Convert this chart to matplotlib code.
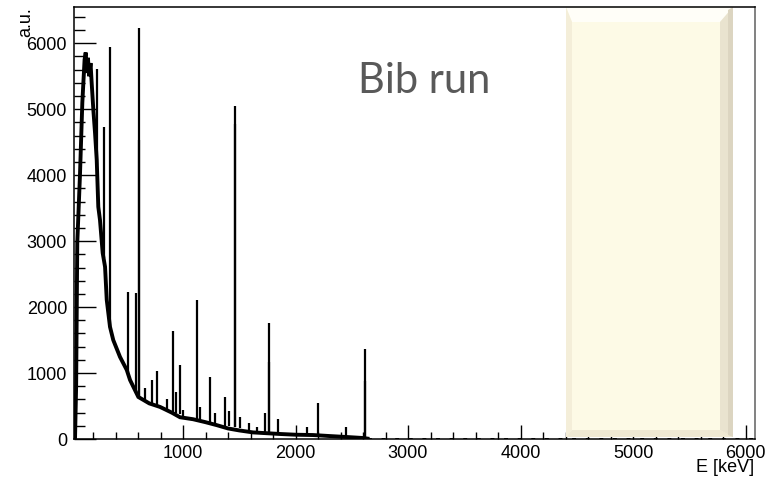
import numpy as np
import matplotlib.pyplot as plt
from matplotlib.patches import Polygon
from matplotlib.ticker import MultipleLocator

# continuum of the spectrum (keV, counts)
cont_e = [40, 50, 60, 84, 105, 125, 135, 145, 155, 165, 178, 188, 203, 218,
          233, 247, 262, 286, 307, 322, 351, 380, 440, 500, 529, 603, 700,
          796, 900, 973, 1089, 1200, 1300, 1400, 1500, 1622, 1711, 1862,
          2000, 2156, 2300, 2458, 2600, 2640]
cont_c = [0, 800, 2970, 4000, 5100, 5750, 5860, 5550, 5780, 5500, 5700, 5400,
          4990, 4640, 4230, 3520, 3320, 2820, 2610, 2110, 1700, 1500, 1244,
          1047, 895, 637, 540, 486, 400, 330, 300, 255, 210, 160, 130, 100,
          91, 76, 65, 60, 45, 30, 15, 6]

# flat tail near zero
tail_e = [2640, 6080]
tail_c = [4, 4]

# gamma lines: energy, top, continuum under it
peak_e = [238, 295, 352, 511, 583, 609, 613, 665, 727, 768, 860, 911, 934,
          969, 1001, 1120, 1155, 1238, 1281, 1377, 1408, 1461, 1465, 1509,
          1588, 1661, 1730, 1764, 1768, 1847, 2103, 2204, 2448, 2614, 2618]
peak_top = [5615, 4725, 5950, 2236, 2220, 6230, 4540, 780, 895, 1032, 607,
            1644, 718, 1123, 440, 2100, 490, 946, 394, 637, 430, 5050, 4780,
            339, 248, 177, 390, 1765, 1173, 299, 177, 540, 177, 1361, 885]
peak_base = [4150, 2750, 1700, 1000, 700, 640, 630, 560, 520, 500, 440, 410,
             400, 380, 330, 300, 285, 250, 235, 200, 190, 175, 175, 160, 130,
             110, 100, 95, 95, 80, 62, 58, 30, 15, 15]

W, H = 774, 478


def fx(px):
    return px / W


def fy(py):
    return 1 - py / H


def bevel_box(ax, x0, y0, x1, y1, t=15, l=6, r=13, b=7):
    # cream shape with bevelled edges, pixel coords from top-left
    faces = [
        ([(x0, y0), (x1, y0), (x1, y1), (x0, y1)], '#fdfae6'),
        ([(x0, y0), (x1, y0), (x1 - r, y0 + t), (x0 + l, y0 + t)], '#fffef8'),
        ([(x0, y0), (x0 + l, y0 + t), (x0 + l, y1 - b), (x0, y1)], '#f4eed9'),
        ([(x0, y1), (x0 + l, y1 - b), (x1 - r, y1 - b), (x1, y1)], '#efe9d3'),
        ([(x1 - r, y0 + t), (x1, y0), (x1, y1), (x1 - r, y1 - b)], '#e9e3cf'),
        ([(x1 - 5, y0 + 3), (x1, y0), (x1, y1), (x1 - 5, y1 - 2)], '#dcd5c1'),
    ]
    for pts, col in faces:
        p = Polygon([(fx(a), fy(c)) for a, c in pts], closed=True,
                    transform=ax.figure.transFigure, facecolor=col,
                    edgecolor='none', zorder=2.3, clip_on=False)
        ax.add_patch(p)


def main():
    font = ['Liberation Sans', 'DejaVu Sans']
    plt.rcParams['font.family'] = font

    fig = plt.figure(figsize=(W / 100, H / 100), dpi=100)
    ax = fig.add_axes([fx(74), fy(439), fx(755) - fx(74), fy(7) - fy(439)])

    ax.plot(cont_e, cont_c, color='black', lw=2.8, zorder=2,
            solid_joinstyle='miter')
    ax.plot(tail_e, tail_c, color='black', lw=1.4, ls=(0, (2, 5)), zorder=2)
    ax.vlines(peak_e, peak_base, peak_top, color='black', lw=1.6, zorder=2)

    ax.set_xlim(31, 6084)
    ax.set_ylim(0, 6550)
    ax.xaxis.set_major_locator(MultipleLocator(1000))
    ax.xaxis.set_minor_locator(MultipleLocator(200))
    ax.yaxis.set_major_locator(MultipleLocator(1000))
    ax.yaxis.set_minor_locator(MultipleLocator(200))
    ax.tick_params(axis='y', which='major', direction='in', length=16,
                   width=1, labelsize=13, pad=5)
    ax.tick_params(axis='y', which='minor', direction='in', length=8, width=1)
    ax.tick_params(axis='x', which='major', direction='in', length=10,
                   width=1, labelsize=13, pad=4)
    ax.tick_params(axis='x', which='minor', direction='in', length=5, width=1)
    ax.set_xticks([1000, 2000, 3000, 4000, 5000, 6000])
    for s in ['left', 'bottom', 'top']:
        ax.spines[s].set_linewidth(1.1)
    ax.spines['right'].set_color('#777777')
    ax.spines['right'].set_linewidth(1.3)

    bevel_box(ax, 566, 7, 733, 437)

    fig.text(fx(26), fy(7), 'a.u.', rotation=90, ha='center', va='top',
             fontsize=13)
    fig.text(fx(754), fy(468), 'E [keV]', ha='right', va='center',
             fontsize=13)
    fig.text(fx(358), fy(93), 'Bib run', ha='left', va='baseline',
             fontsize=30, color='#595959', family=['Lato', 'DejaVu Sans'])

    fig.savefig('out.png', dpi=100)


if __name__ == "__main__":
    main()
